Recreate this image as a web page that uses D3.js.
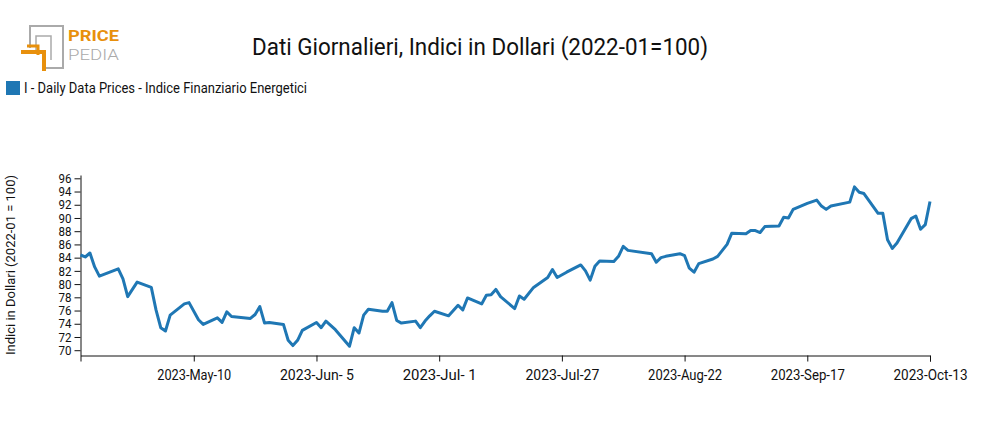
<!DOCTYPE html>
<html>
<head>
<meta charset="utf-8">
<script src="https://cdn.jsdelivr.net/npm/d3@7"></script>
<style>
  body { margin: 0; background: #fff; }
  text { font-family: Roboto, sans-serif; }
</style>
</head>
<body>
<svg id="chart" width="985" height="430"></svg>
<script>
(function() {
    'use strict';

    var dates = [
        '2023-04-16','2023-04-17','2023-04-18','2023-04-19','2023-04-20','2023-04-24','2023-04-25','2023-04-26',
        '2023-04-28','2023-05-01','2023-05-02','2023-05-03','2023-05-04','2023-05-05','2023-05-08','2023-05-09',
        '2023-05-11','2023-05-12','2023-05-15','2023-05-16','2023-05-17','2023-05-18','2023-05-22','2023-05-23',
        '2023-05-24','2023-05-25','2023-05-26','2023-05-29','2023-05-30','2023-05-31','2023-06-01','2023-06-02',
        '2023-06-05','2023-06-06','2023-06-07','2023-06-09','2023-06-12','2023-06-13','2023-06-14','2023-06-15',
        '2023-06-16','2023-06-19','2023-06-20','2023-06-21','2023-06-22','2023-06-23','2023-06-26','2023-06-27',
        '2023-06-28','2023-06-29','2023-06-30','2023-07-03','2023-07-05','2023-07-06','2023-07-07','2023-07-10',
        '2023-07-11','2023-07-12','2023-07-13','2023-07-14','2023-07-17','2023-07-18','2023-07-19','2023-07-21',
        '2023-07-24','2023-07-25','2023-07-26','2023-07-28','2023-07-31','2023-08-01','2023-08-02','2023-08-03',
        '2023-08-04','2023-08-07','2023-08-08','2023-08-09','2023-08-10','2023-08-15','2023-08-16','2023-08-17',
        '2023-08-18','2023-08-21','2023-08-22','2023-08-23','2023-08-24','2023-08-25','2023-08-28','2023-08-29',
        '2023-08-31','2023-09-01','2023-09-04','2023-09-05','2023-09-06','2023-09-07','2023-09-08','2023-09-11',
        '2023-09-12','2023-09-13','2023-09-14','2023-09-17','2023-09-19','2023-09-20','2023-09-21','2023-09-22',
        '2023-09-26','2023-09-27','2023-09-28','2023-09-29','2023-10-02','2023-10-03','2023-10-04','2023-10-05',
        '2023-10-06','2023-10-09','2023-10-10','2023-10-11','2023-10-12','2023-10-13'
    ];
    var values = [
        84.4, 84.1, 84.7, 82.6, 81.2, 82.3, 80.8, 78.1,
        80.3, 79.5, 76.1, 73.4, 72.9, 75.3, 77.0, 77.2,
        74.6, 73.9, 74.9, 74.2, 75.8, 75.1, 74.8, 75.4,
        76.6, 74.1, 74.2, 73.9, 71.5, 70.7, 71.5, 73.0,
        74.2, 73.4, 74.4, 73.1, 70.6, 73.4, 72.6, 75.3,
        76.2, 75.9, 75.9, 77.2, 74.5, 74.1, 74.4, 73.4,
        74.4, 75.2, 75.9, 75.2, 76.8, 76.1, 77.9, 77.0,
        78.3, 78.4, 79.2, 78.1, 76.3, 78.2, 77.7, 79.5,
        81.0, 82.2, 81.0, 81.8, 82.9, 82.0, 80.6, 82.7,
        83.5, 83.4, 84.2, 85.7, 85.1, 84.6, 83.3, 84.0,
        84.2, 84.6, 84.3, 82.4, 81.8, 83.1, 83.8, 84.2,
        86.0, 87.7, 87.6, 88.1, 88.1, 87.8, 88.7, 88.8,
        90.1, 90.0, 91.3, 92.2, 92.7, 91.8, 91.3, 91.8,
        92.4, 94.7, 93.9, 93.7, 90.7, 90.7, 86.7, 85.4,
        86.2, 89.9, 90.3, 88.3, 89.0, 92.5
    ];
    var xTicks = ['2023-05-10','2023-06-05','2023-07-01','2023-07-27','2023-08-22','2023-09-17','2023-10-13'];
    var yTicks = [70, 72, 74, 76, 78, 80, 82, 84, 86, 88, 90, 92, 94, 96];
    var title = 'Dati Giornalieri, Indici in Dollari (2022-01=100)';
    var seriesName = 'I - Daily Data Prices - Indice Finanziario Energetici';
    var yLabel = 'Indici in Dollari (2022-01 = 100)';

    var BLUE = '#1f77b4';
    var parse = d3.timeParse('%Y-%m-%d');
    var months = ['Jan','Feb','Mar','Apr','May','Jun','Jul','Aug','Sep','Oct','Nov','Dec'];
    function fmt(d) {
        var day = d.getDate();
        return d.getFullYear() + '-' + months[d.getMonth()] + '-' + (day < 10 ? ' ' + day : day);
    }

    var data = dates.map(function(s, i) { return { date: parse(s), value: values[i] }; });

    var svg = d3.select('#chart');
    var m = { left: 80.5, right: 930, top: 175, bottom: 355.5 };

    var x = d3.scaleTime().domain([parse('2023-04-16'), parse('2023-10-13')]).range([m.left, m.right]);
    var y = d3.scaleLinear().domain([69.2, 96.5]).range([m.bottom, m.top]);

    // logo
    var logo = svg.append('g');
    logo.append('path').attr('d', 'M30,48 V26 H63 V68 H44').attr('fill', 'none').attr('stroke', '#aaa').attr('stroke-width', 2);
    logo.append('path').attr('d', 'M36,54 V36 H51 V60').attr('fill', 'none').attr('stroke', '#aaa').attr('stroke-width', 1.5);
    logo.append('path').attr('d', 'M21,52 H44 V71').attr('fill', 'none').attr('stroke', '#e8900c').attr('stroke-width', 4);
    logo.append('path').attr('d', 'M27,46 H38 V55').attr('fill', 'none').attr('stroke', '#e8900c').attr('stroke-width', 3);
    logo.append('text').attr('x', 68).attr('y', 41).attr('font-size', 15).attr('font-weight', 'bold')
        .attr('fill', '#e8900c').attr('textLength', 51).attr('lengthAdjust', 'spacingAndGlyphs').text('PRICE');
    logo.append('text').attr('x', 68).attr('y', 60).attr('font-size', 15)
        .attr('fill', '#aaa').attr('textLength', 51).attr('lengthAdjust', 'spacingAndGlyphs').attr('font-weight', 300).text('PEDIA');

    svg.append('text').attr('x', 252).attr('y', 55)
        .attr('font-size', 24).attr('fill', '#111')
        .attr('textLength', 456).attr('lengthAdjust', 'spacingAndGlyphs').text(title);

    svg.append('rect').attr('x', 6).attr('y', 81).attr('width', 14).attr('height', 14).attr('fill', BLUE);
    svg.append('text').attr('x', 24).attr('y', 93).attr('font-size', 14).attr('fill', '#111')
        .attr('textLength', 283).attr('lengthAdjust', 'spacingAndGlyphs').text(seriesName);

    svg.append('g').attr('transform', 'translate(0,' + m.bottom + ')')
        .call(d3.axisBottom(x).tickValues(xTicks.map(parse)).tickFormat(fmt).tickSizeOuter(6))
        .call(function(g) {
            g.selectAll('text').attr('font-size', 14).attr('fill', '#111').attr('dy', '1.1em')
                .attr('textLength', 74).attr('lengthAdjust', 'spacingAndGlyphs');
        });

    svg.append('g').attr('transform', 'translate(' + m.left + ',0)')
        .call(d3.axisLeft(y).tickValues(yTicks).tickSizeOuter(0))
        .call(function(g) {
            g.selectAll('text').attr('font-size', 13).attr('fill', '#111')
                .attr('textLength', 13).attr('lengthAdjust', 'spacingAndGlyphs');
        });

    svg.selectAll('.domain, .tick line').attr('stroke', '#111');
    svg.selectAll('.tick text').style('font-family', 'Roboto, sans-serif');

    svg.append('text').attr('transform', 'translate(15,' + 265 + ') rotate(-90)')
        .attr('text-anchor', 'middle').attr('font-size', 13).attr('fill', '#111')
        .attr('textLength', 180).attr('lengthAdjust', 'spacingAndGlyphs').text(yLabel);

    var line = d3.line().x(function(d) { return x(d.date); }).y(function(d) { return y(d.value); });
    svg.append('path').datum(data).attr('d', line)
        .attr('fill', 'none').attr('stroke', BLUE).attr('stroke-width', 3).attr('stroke-linejoin', 'round');
}());
</script>
</body>
</html>
